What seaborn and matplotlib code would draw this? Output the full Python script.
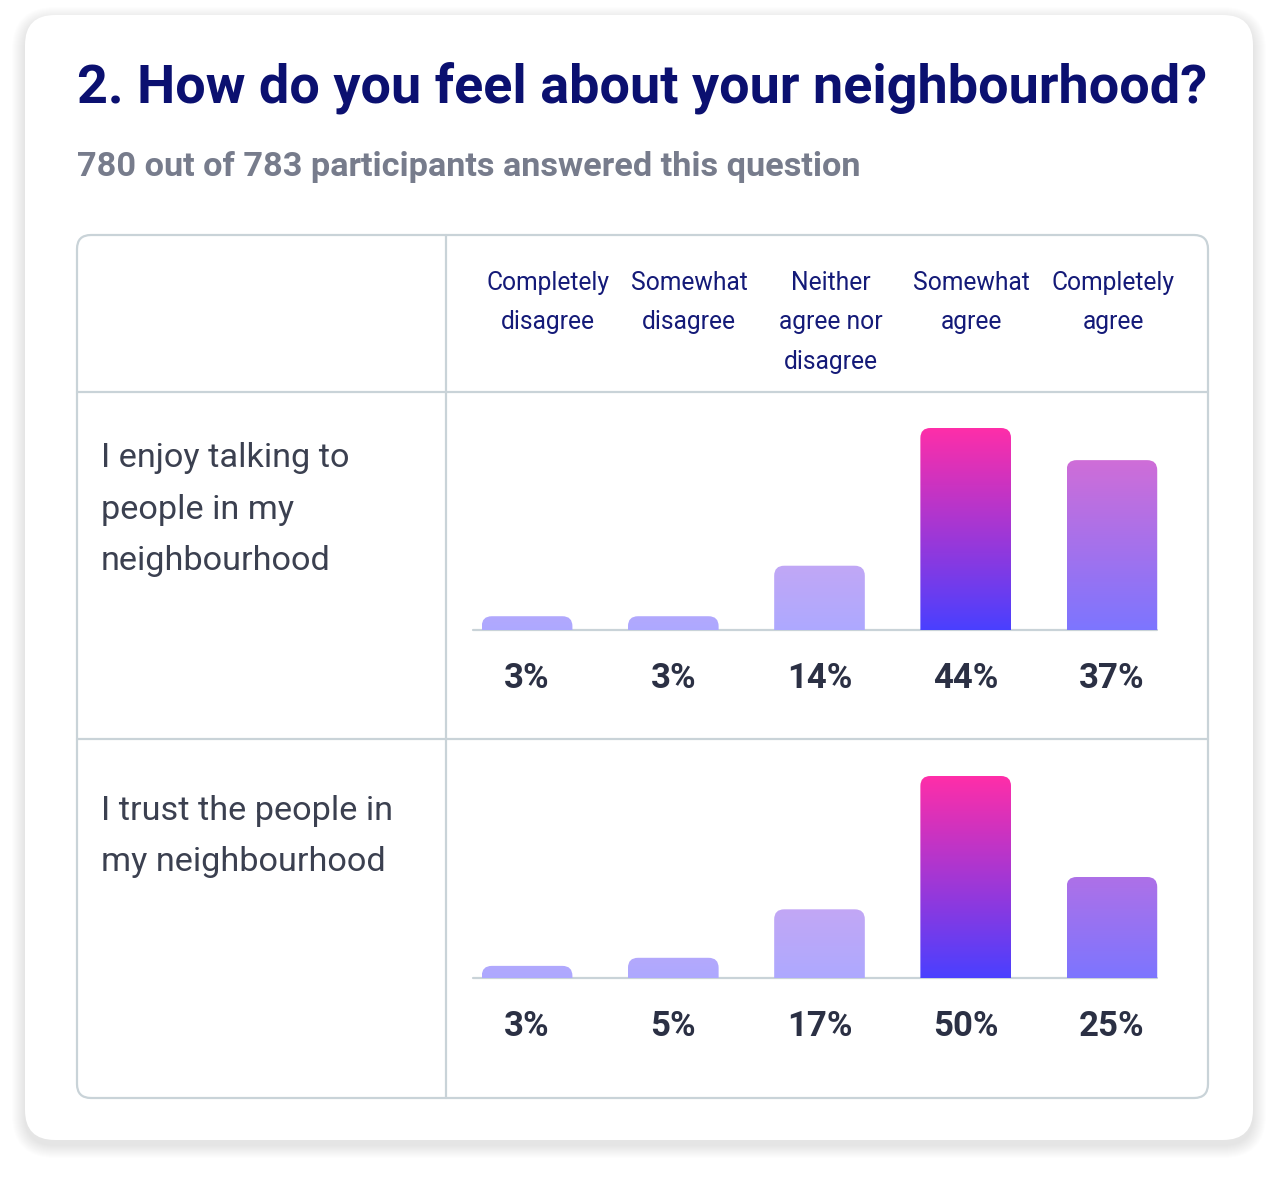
import numpy as np
import pandas as pd
import matplotlib
matplotlib.use("Agg")
import matplotlib.pyplot as plt
from matplotlib.patches import FancyBboxPatch
import seaborn as sns

title = "2. How do you feel about your neighbourhood?"
subtitle = "780 out of 783 participants answered this question"
answers = ["Completely\ndisagree", "Somewhat\ndisagree", "Neither\nagree nor\ndisagree",
           "Somewhat\nagree", "Completely\nagree"]
statements = ["I enjoy talking to\npeople in my\nneighbourhood",
              "I trust the people in\nmy neighbourhood"]
enjoy_pct = [3, 3, 14, 44, 37]
trust_pct = [3, 5, 17, 50, 25]

W, H = 1280, 1187
sns.set_theme(style="white")
plt.rcParams["font.family"] = ["Roboto", "DejaVu Sans"]

fig = plt.figure(figsize=(W / 100, H / 100), dpi=100)
fig.patch.set_facecolor("white")

# background layer in pixel units
bg = fig.add_axes([0, 0, 1, 1])
bg.set_xlim(0, W)
bg.set_ylim(H, 0)
bg.axis("off")

# soft shadow + card
for k in range(1, 14):
    bg.add_patch(FancyBboxPatch((25 - k, 15 - k + 5), 1228 + 2 * k, 1125 + 2 * k,
                                boxstyle=f"round,pad=0,rounding_size={30 + k}",
                                fc="black", ec="none", alpha=0.007, zorder=0))
bg.add_patch(FancyBboxPatch((25, 15), 1228, 1125, boxstyle="round,pad=0,rounding_size=30",
                            fc="white", ec="none", zorder=1))

grid_col = "#C9D3D8"
bg.add_patch(FancyBboxPatch((77, 235), 1131, 863, boxstyle="round,pad=0,rounding_size=14",
                            fc="none", ec=grid_col, lw=1.6, zorder=2))
bg.plot([446, 446], [235, 1098], color=grid_col, lw=1.6, zorder=2)
bg.plot([77, 1208], [392, 392], color=grid_col, lw=1.6, zorder=2)
bg.plot([77, 1208], [739, 739], color=grid_col, lw=1.6, zorder=2)

bg.text(77, 102, title, fontsize=38.9, weight="bold", color="#0B1070", va="baseline", zorder=3)
bg.text(77, 176, subtitle, fontsize=24.7, weight="semibold", color="#777C8C", va="baseline", zorder=3)

# column headers
for i, lab in enumerate(answers):
    cx = 548 + i * 141.25
    for j, line in enumerate(lab.split("\n")):
        bg.text(cx, 290 + j * 39.5, line, fontsize=17.7, color="#141A78",
                ha="center", va="baseline", zorder=3)

# row labels
for base_y, lab in zip([467, 820], statements):
    for j, line in enumerate(lab.split("\n")):
        bg.text(101, base_y + j * 51.5, line, fontsize=24.7, color="#3B4050",
                va="baseline", zorder=3)

blue = np.array([0.29, 0.25, 1.0])
pink = np.array([1.0, 0.18, 0.66])
rank_alpha = [1.0, 0.72, 0.45, 0.45, 0.45]

for vals, base in [(enjoy_pct, 630), (trust_pct, 978)]:
    vmax = max(vals)
    ax = fig.add_axes([454 / W, 1 - base / H, 731 / W, 202 / H])
    df = pd.DataFrame({"answer": answers, "pct": vals})
    sns.barplot(data=df, x="answer", y="pct", ax=ax, width=0.62, color="#4A40FF")
    ax.plot([-0.37, 4.31], [0, 0], color=grid_col, lw=1.6, clip_on=False, zorder=1)

    ranks = np.argsort(np.argsort(-np.array(vals), kind="stable"))
    for p, v, r in zip(ax.patches, vals, ranks):
        x0, w, h = p.get_x(), p.get_width(), p.get_height()
        p.set_visible(False)
        k = 1.0 if r == 0 else 0.75
        t = np.linspace(0, h / vmax * k, 200)[:, None]
        rgb = blue * (1 - t) + pink * t
        rgb = 1 - rank_alpha[r] * (1 - rgb)
        im = ax.imshow(rgb[:, None, :], extent=(x0, x0 + w, 0, h), origin="lower",
                       aspect="auto", interpolation="bilinear", zorder=2)
        ry = 10 * vmax / 202
        clip = FancyBboxPatch((x0, -ry - 1), w, h + ry + 1,
                              boxstyle=f"round,pad=0,rounding_size={10 / 146.2}",
                              mutation_aspect=vmax * 146.2 / 202,
                              transform=ax.transData)
        im.set_clip_path(clip)
        ax.annotate(f"{v}%", xy=(x0 + w / 2, 0), xytext=(0, -58), textcoords="offset pixels",
                    ha="center", va="baseline", fontsize=25, weight="bold", color="#2B3044")

    ax.set_xlim(-0.5, 4.5)
    ax.set_ylim(0, vmax)
    ax.axis("off")

fig.savefig("out.png", dpi=100, facecolor="white")
